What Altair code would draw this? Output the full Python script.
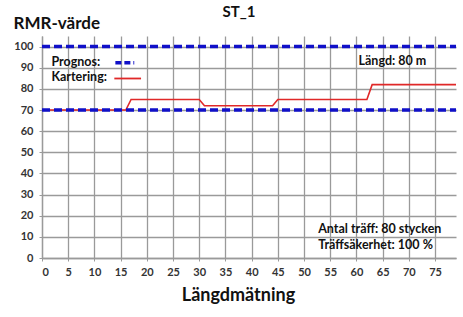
import altair as alt
import pandas as pd

# Kartering (mapped RMR) step series
kart_x = [0, 16, 17, 30, 31, 44, 45, 62, 63, 79]
kart_y = [70, 70, 75, 75, 72, 72, 75, 75, 82, 82]

# Prognos band limits
prognos_levels = [70, 100]
x_start, x_end = 0, 79

x_ticks = list(range(0, 80, 5))
y_ticks = list(range(0, 101, 10))

FONT = "Lato"
BLUE = "#1010C8"
RED = "#E02828"
GRID = "#9A9A9A"

kart_df = pd.DataFrame({"x": kart_x, "y": kart_y})
prog_df = pd.DataFrame({"level": prognos_levels, "x0": [x_start] * 2, "x1": [x_end] * 2})

xscale = alt.Scale(domain=[0, 79], nice=False, zero=False)
yscale = alt.Scale(domain=[0, 105], nice=False)

xaxis = alt.Axis(values=x_ticks, grid=True, gridColor=GRID, gridWidth=1.3,
                 domainColor=GRID, domainWidth=1.3, tickColor=GRID, tickSize=3,
                 labelFont=FONT, labelFontSize=11, labelColor="#333", labelFontWeight="bold",
                 labelPadding=5, labelOverlap=False,
                 title="Längdmätning", titleFont=FONT, titleFontSize=18, titleFontWeight="bold",
                 titleColor="#111", titleX=196, titleY=42, titleAlign="center",
                 titleBaseline="alphabetic")
yaxis = alt.Axis(values=y_ticks, grid=True, gridColor=GRID, gridWidth=1.3,
                 domainColor=GRID, domainWidth=1.3, tickColor=GRID, tickSize=3,
                 labelFont=FONT, labelFontSize=11, labelColor="#333", labelFontWeight="bold",
                 labelPadding=6, labelOverlap=False,
                 title="RMR-värde", titleFont=FONT, titleFontSize=17, titleFontWeight="bold",
                 titleColor="#111", titleAngle=0, titleX=-29, titleY=-8, titleAlign="left",
                 titleBaseline="alphabetic")

kart = alt.Chart(kart_df).mark_line(color=RED, strokeWidth=1.6).encode(
    x=alt.X("x:Q", scale=xscale, axis=xaxis),
    y=alt.Y("y:Q", scale=yscale, axis=yaxis),
)

prog = alt.Chart(prog_df).mark_rule(color=BLUE, strokeWidth=3.5, strokeDash=[8, 4]).encode(
    x=alt.X("x0:Q", scale=xscale, axis=xaxis), x2="x1:Q",
    y=alt.Y("level:Q", scale=yscale, axis=yaxis)
)

def txt(s, x, y, size=12.5, align="left"):
    return alt.Chart(pd.DataFrame({"t": [s]})).mark_text(
        font=FONT, fontSize=size, fontWeight="bold", color="#111", align=align,
        baseline="alphabetic").encode(
        text="t:N", x=alt.datum(x, scale=xscale, axis=xaxis),
        y=alt.datum(y, scale=yscale, axis=yaxis))

labels = [
    txt("Prognos:", 1.8, 91.0),
    txt("Kartering:", 1.8, 83.9),
    txt("Längd: 80 m", 60.4, 91.5),
    txt("Antal träff: 80 stycken", 52.7, 11.7),
    txt("Träffsäkerhet: 100 %", 52.7, 4.1),
]

leg_blue = alt.Chart(pd.DataFrame({"a": [14.0], "b": [17.6], "y": [92.4]})).mark_rule(
    color=BLUE, strokeWidth=3.5, strokeDash=[6, 3]).encode(
    x=alt.X("a:Q", scale=xscale, axis=xaxis), x2="b:Q",
    y=alt.Y("y:Q", scale=yscale, axis=yaxis))
leg_red = alt.Chart(pd.DataFrame({"a": [13.8], "b": [18.9], "y": [84.9]})).mark_rule(
    color=RED, strokeWidth=1.8).encode(
    x=alt.X("a:Q", scale=xscale, axis=xaxis), x2="b:Q",
    y=alt.Y("y:Q", scale=yscale, axis=yaxis))

title = alt.Chart(pd.DataFrame({"t": ["ST_1"]})).mark_text(
    font=FONT, fontSize=15, fontWeight="bold", color="#111", align="center",
    baseline="alphabetic").encode(text="t:N", x=alt.value(197), y=alt.value(-19))

chart = alt.layer(kart, prog, leg_blue, leg_red, title, *labels).properties(
    width=414, height=222,
    padding={"left": 42, "top": 36, "right": 7, "bottom": 59},
    autosize=alt.AutoSizeParams(type="none"),
    background="white",
).configure_view(stroke=None)

chart.save("out.html", embed_options={"renderer": "svg", "actions": False})
